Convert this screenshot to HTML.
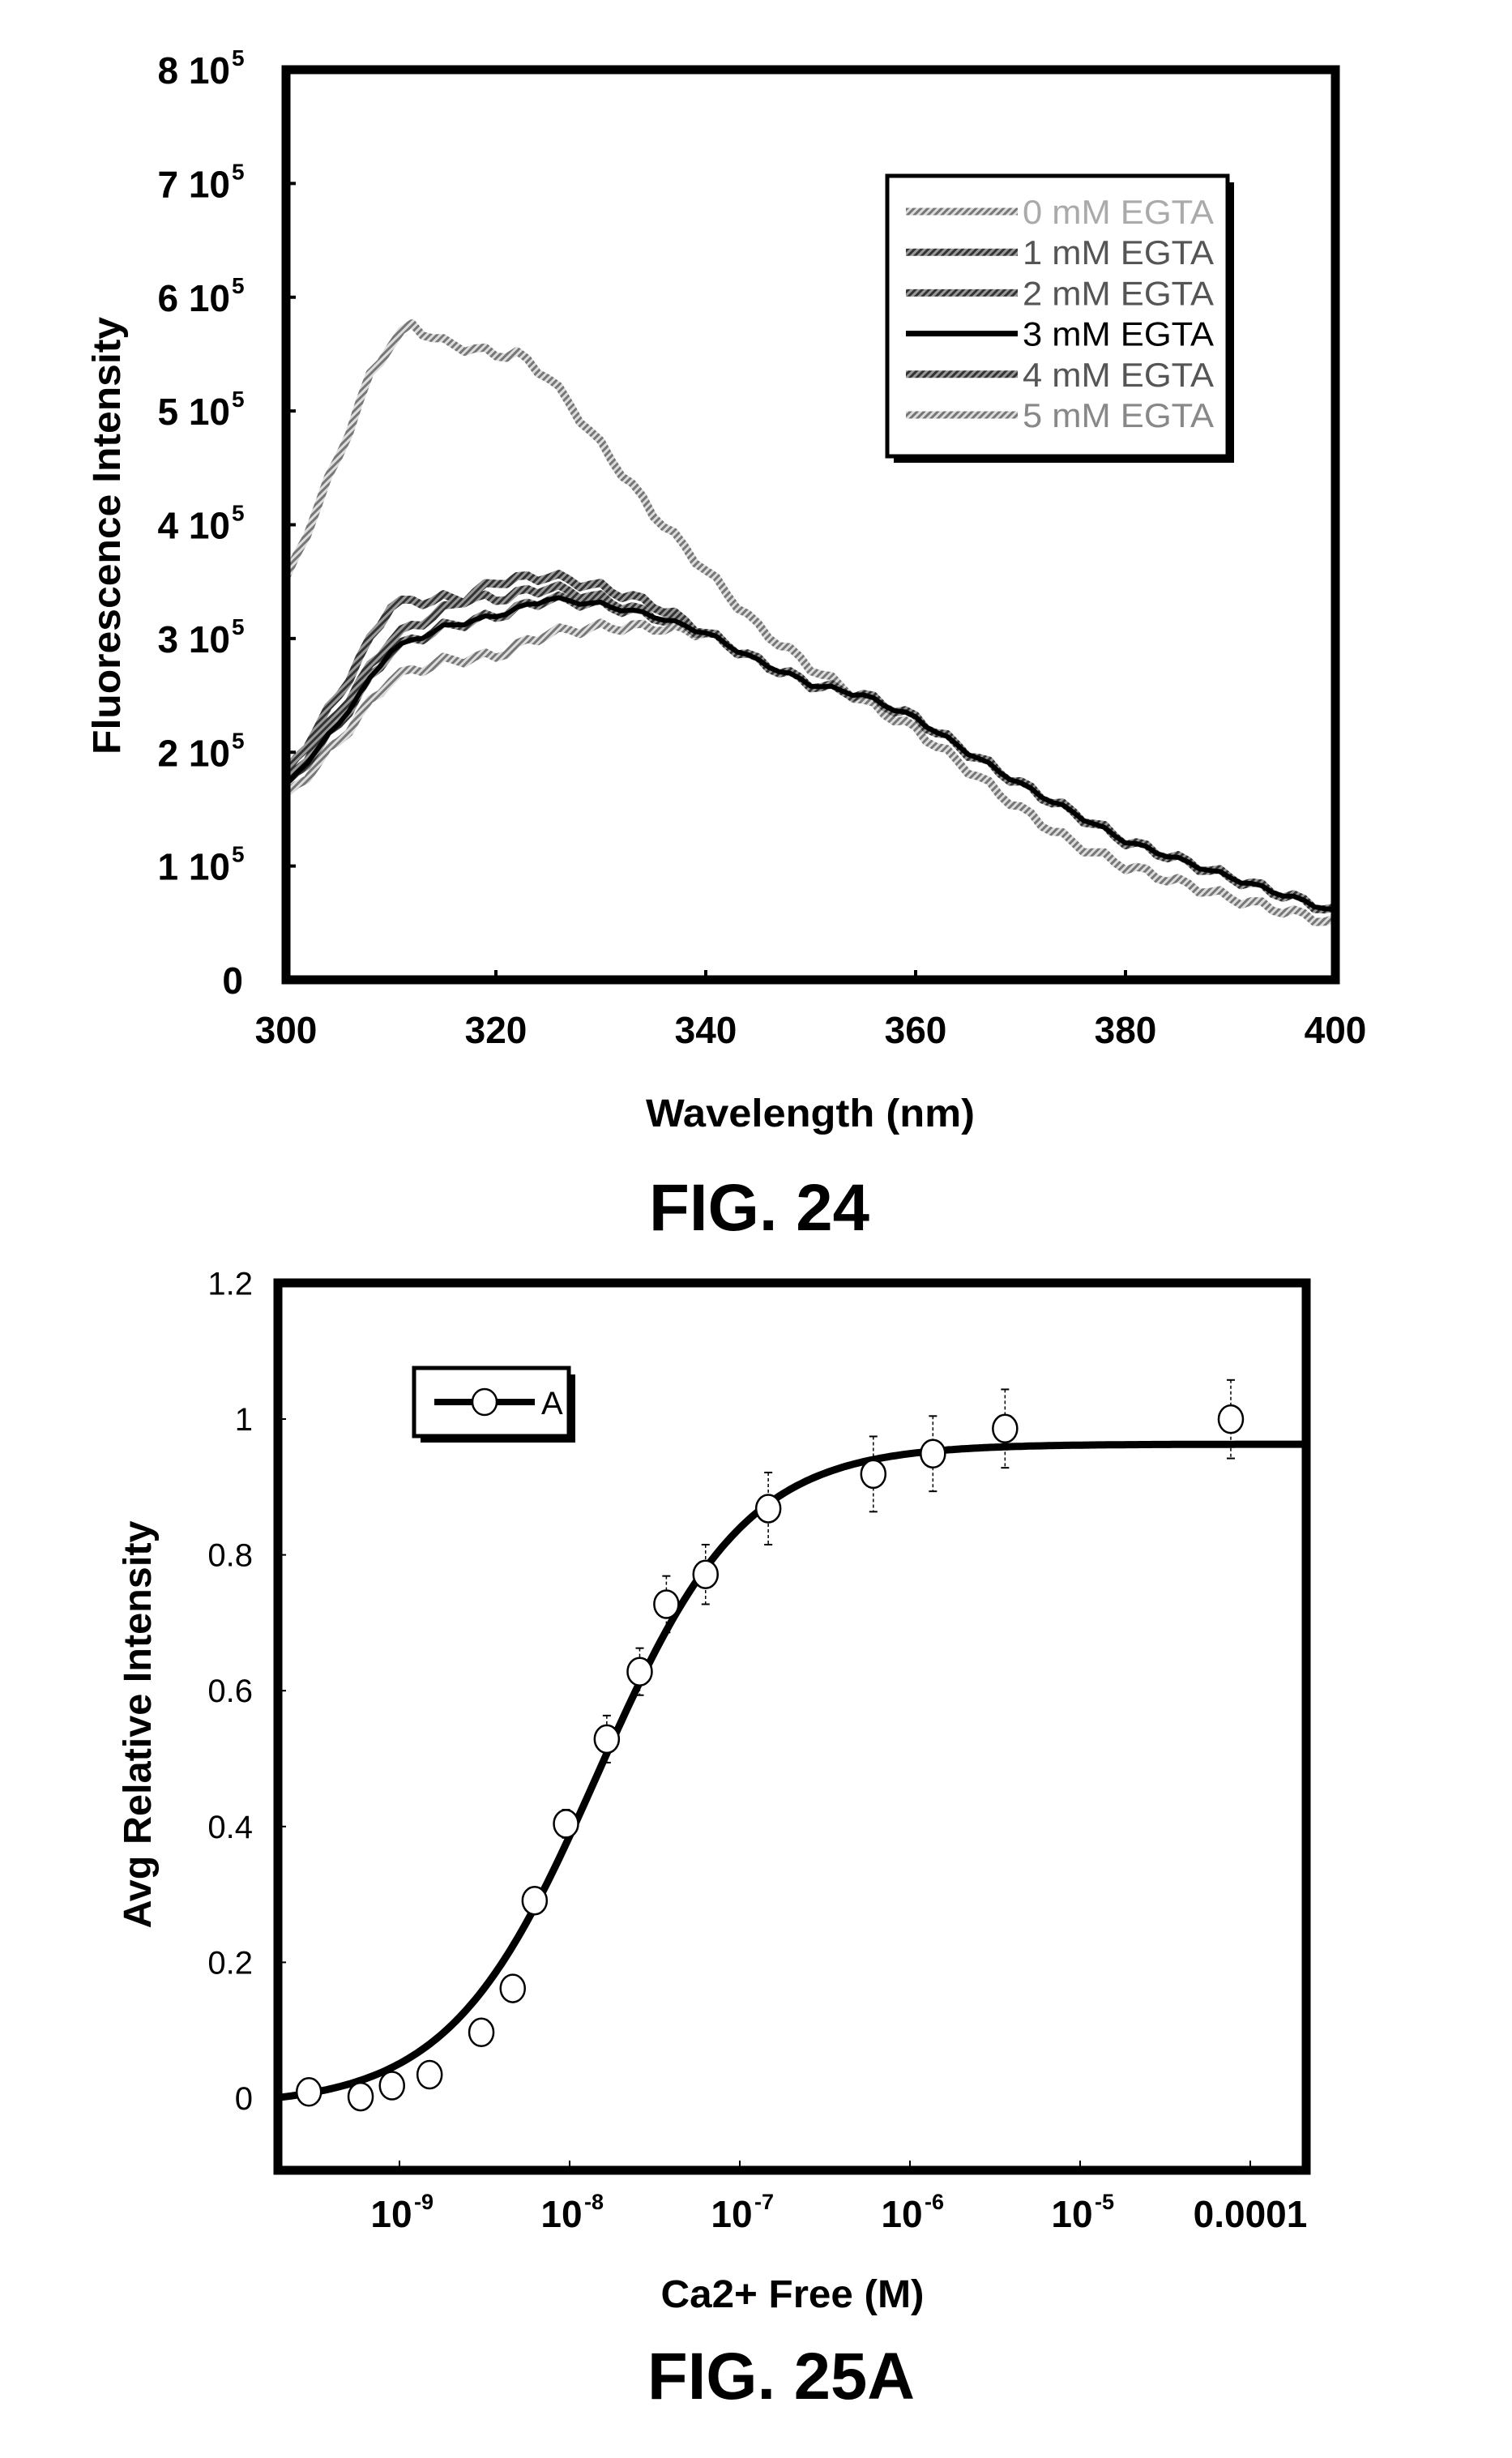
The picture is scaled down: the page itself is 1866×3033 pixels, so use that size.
<!DOCTYPE html>
<html><head><meta charset="utf-8">
<style>
html,body{margin:0;padding:0;background:#fff;}
svg{display:block;font-family:"Liberation Sans",Arial,sans-serif;}
</style></head>
<body>
<svg id="s" width="1866" height="3033" viewBox="0 0 1866 3033" xmlns="http://www.w3.org/2000/svg">
<rect width="1866" height="3033" fill="#fff"/>
<defs>
<pattern id="hg" width="6" height="6" patternUnits="userSpaceOnUse" patternTransform="rotate(45)">
<rect width="6" height="6" fill="#999"/><rect width="3" height="6" fill="#333"/></pattern>
<pattern id="hl" width="6" height="6" patternUnits="userSpaceOnUse" patternTransform="rotate(45)">
<rect width="6" height="6" fill="#ddd"/><rect width="3" height="6" fill="#777"/></pattern>
</defs>
<g id="f24"></g>
<g id="f25"></g>
<text x="300" y="1226" font-size="46" font-weight="bold" text-anchor="end">0</text>
<text x="1000" y="1390" font-size="48" font-weight="bold" text-anchor="middle" textLength="406" lengthAdjust="spacingAndGlyphs">Wavelength (nm)</text>
<text transform="translate(148,661) rotate(-90)" font-size="48" font-weight="bold" text-anchor="middle" textLength="540" lengthAdjust="spacingAndGlyphs">Fluorescence Intensity</text>
<text x="937" y="1518" font-size="82" font-weight="bold" text-anchor="middle" textLength="272" lengthAdjust="spacingAndGlyphs">FIG. 24</text>
<text x="978" y="2847" font-size="48" font-weight="bold" text-anchor="middle" textLength="325" lengthAdjust="spacingAndGlyphs">Ca2+ Free (M)</text>
<text transform="translate(186,2128) rotate(-90)" font-size="48" font-weight="bold" text-anchor="middle" textLength="503" lengthAdjust="spacingAndGlyphs">Avg Relative Intensity</text>
<text x="964" y="2960" font-size="82" font-weight="bold" text-anchor="middle" textLength="330" lengthAdjust="spacingAndGlyphs">FIG. 25A</text>
</svg>
<script>
var NS="http://www.w3.org/2000/svg";
function el(p,t,a,txt){var e=document.createElementNS(NS,t);for(var k in a)e.setAttribute(k,a[k]);if(txt!==undefined)e.textContent=txt;p.appendChild(e);return e;}
// ---------- FIG 24 ----------
var g=document.getElementById('f24');
var L=353,R=1648,T=86,B=1209;
function X(l){return L+(R-L)*(l-300)/100;}
function Y(v){return B-(B-T)*v/8;}
function path(d,jit){var pts=[];
 for(var l=300;l<=400;l+=1){
  var i=0;while(i<d.length-2&&d[i+1][0]<l)i++;
  var a=d[i],b=d[i+1];var t=(l-a[0])/(b[0]-a[0]);var v=a[1]+(b[1]-a[1])*t;
  v+=jit*Math.sin(l*1.7)*0.04;
  pts.push(X(l).toFixed(1)+","+Y(v).toFixed(1));}
 return "M"+pts.join("L");}
var c0=[[300,3.5],[305,4.6],[308,5.3],[310,5.6],[312,5.75],[315,5.6],[320,5.5],[322,5.5],[325,5.3],[330,4.7],[335,4.1],[340,3.6],[345,3.1],[350,2.75],[355,2.45],[360,2.2],[365,1.85],[370,1.5],[375,1.2],[380,1.0],[390,0.72],[400,0.5]];
function base(d){return [[300,1.7+d[0]],[305,2.3+d[1]],[310,2.9+d[2]],[315,3.1+d[3]],[320,3.2+d[4]],[325,3.35+d[5]],[330,3.3+d[6]],[335,3.2+d[7]],[340,3.05],[345,2.8],[350,2.6],[355,2.5],[360,2.3],[365,2.0],[370,1.72],[375,1.47],[380,1.22],[390,0.9],[400,0.6]];}
var series=[
 {d:c0,s:"url(#hl)",w:10,j:1},
 {d:base([0.1,0.2,0.4,0.25,0.15,0.1,0.05,0]),s:"url(#hg)",w:10,j:1},
 {d:base([0,0.05,0.1,0.15,0.3,0.2,0.15,0.1]),s:"url(#hg)",w:10,j:1},
 {d:base([-0.1,-0.2,-0.25,-0.3,-0.35,-0.3,-0.2,-0.1]),s:"url(#hl)",w:10,j:1},
 {d:base([0,-0.05,0,0,0,0,0,0]),s:"url(#hg)",w:10,j:1},
 {d:base([0,-0.05,0,0,0,0,0,0]),s:"#000",w:6,j:0.5}];
series.forEach(function(o){el(g,'path',{d:path(o.d,o.j),fill:'none',stroke:o.s,'stroke-width':o.w,'stroke-linejoin':'round'});});
el(g,'rect',{x:L,y:T,width:R-L,height:B-T,fill:'none',stroke:'#000','stroke-width':11});
for(var v=1;v<=8;v++){var y=Y(v);el(g,'line',{x1:L,x2:L+12,y1:y,y2:y,stroke:'#000','stroke-width':4});
 el(g,'text',{x:284,y:y+17,'font-size':46,'font-weight':'bold','text-anchor':'end'},v+" 10");
 el(g,'text',{x:286,y:y-5,'font-size':28,'font-weight':'bold'},"5");}
for(var l=300;l<=400;l+=20){var x=X(l);el(g,'line',{x1:x,x2:x,y1:B,y2:B-12,stroke:'#000','stroke-width':4});
 el(g,'text',{x:x,y:1287,'font-size':46,'font-weight':'bold','text-anchor':'middle'},l);}
el(g,'rect',{x:1103,y:225,width:420,height:346,fill:'#000'});
el(g,'rect',{x:1095,y:217,width:420,height:346,fill:'#fff',stroke:'#000','stroke-width':5});
var labs=["0 mM EGTA","1 mM EGTA","2 mM EGTA","3 mM EGTA","4 mM EGTA","5 mM EGTA"];
var st=[["url(#hl)",9,"#aaa"],["url(#hg)",9,"#555"],["url(#hg)",9,"#555"],["#000",7,"#000"],["url(#hg)",9,"#555"],["url(#hl)",9,"#888"]];
labs.forEach(function(s,i){var y=261+i*50.2;
 el(g,'line',{x1:1118,x2:1256,y1:y,y2:y,stroke:st[i][0],'stroke-width':st[i][1]});
 el(g,'text',{x:1262,y:y+15,'font-size':42,fill:st[i][2],textLength:236,lengthAdjust:'spacingAndGlyphs'},s);});
// ---------- FIG 25A ----------
var h=document.getElementById('f25');
var L2=343,R2=1612,T2=1583,B2=2678;
function X2(lc){return 493+210*(lc+9);}
function Y2(v){return 2589-838*v;}
var p=[];for(var x=L2;x<=R2;x+=4){var lc=-9+(x-493)/210;var c=Math.pow(10,lc),K=1.45e-8;var v=-0.012+0.975*c/(c+K);p.push(x+","+Y2(v).toFixed(1));}
el(h,'path',{d:"M"+p.join("L"),fill:'none',stroke:'#000','stroke-width':9});
var tp=[[197,1334,0],[230,1337,0],[250,1330,0],[274,1323,0],[307,1296,0],[327,1268,0],[341,1212,0],[361,1163,9],[387,1109,15],[408,1066,15],[425,1023,18],[450,1004,19],[490,962,23],[557,940,24],[595,927,24],[641,911,25],[785,905,25]];
tp.forEach(function(q){var x=q[0]*1.935,y=q[1]*1.935,e=q[2]*1.935;
 if(e){el(h,'line',{x1:x,x2:x,y1:y-e,y2:y+e,stroke:'#000','stroke-width':1.5,'stroke-dasharray':'4,3'});
 el(h,'line',{x1:x-5,x2:x+5,y1:y-e,y2:y-e,stroke:'#000','stroke-width':2});
 el(h,'line',{x1:x-5,x2:x+5,y1:y+e,y2:y+e,stroke:'#000','stroke-width':2});}
 el(h,'ellipse',{cx:x,cy:y,rx:15,ry:17,fill:'#fff',stroke:'#000','stroke-width':2.5});});
el(h,'rect',{x:L2,y:T2,width:R2-L2,height:B2-T2,fill:'none',stroke:'#000','stroke-width':11});
[0,0.2,0.4,0.6,0.8,1,1.2].forEach(function(v){var y=Y2(v);el(h,'line',{x1:L2,x2:L2+10,y1:y,y2:y,stroke:'#000','stroke-width':2});
 el(h,'text',{x:312,y:y+14,'font-size':40,'text-anchor':'end'},String(v));});
[-9,-8,-7,-6,-5].forEach(function(e){var x=X2(e);el(h,'line',{x1:x,x2:x,y1:B2,y2:B2-12,stroke:'#000','stroke-width':2});
 el(h,'text',{x:x-10,y:2748,'font-size':46,'font-weight':'bold','text-anchor':'middle'},"10");
 el(h,'text',{x:x+18,y:2726,'font-size':27,'font-weight':'bold'},String(e));});
var x4=X2(-4);el(h,'line',{x1:x4,x2:x4,y1:B2,y2:B2-12,stroke:'#000','stroke-width':2});
el(h,'text',{x:x4,y:2748,'font-size':46,'font-weight':'bold','text-anchor':'middle'},"0.0001");
el(h,'rect',{x:519,y:1696,width:191,height:84,fill:'#000'});
el(h,'rect',{x:511,y:1688,width:191,height:84,fill:'#fff',stroke:'#000','stroke-width':5});
el(h,'line',{x1:536,x2:660,y1:1730,y2:1730,stroke:'#000','stroke-width':8});
el(h,'ellipse',{cx:598,cy:1730,rx:15,ry:16,fill:'#fff',stroke:'#000','stroke-width':2.5});
el(h,'text',{x:668,y:1745,'font-size':40},"A");
</script>
</body></html>
